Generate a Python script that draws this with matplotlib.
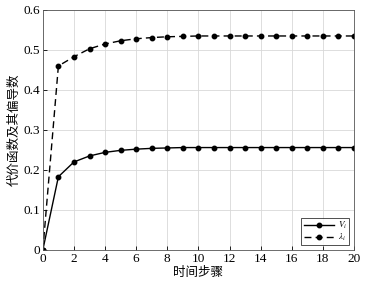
import matplotlib
matplotlib.use('Agg')
import matplotlib.pyplot as plt

# 数据
steps = list(range(0, 21))
v_vals = [0, 0.183, 0.220, 0.235, 0.244, 0.249, 0.252, 0.254, 0.255, 0.256, 0.256,
          0.256, 0.256, 0.256, 0.256, 0.256, 0.256, 0.256, 0.256, 0.256, 0.256]
lam_vals = [0, 0.460, 0.483, 0.503, 0.515, 0.523, 0.528, 0.531, 0.533, 0.534, 0.535,
            0.535, 0.535, 0.535, 0.535, 0.535, 0.535, 0.535, 0.535, 0.535, 0.535]
xticks = list(range(0, 21, 2))
yticks = [0, 0.1, 0.2, 0.3, 0.4, 0.5, 0.6]

plt.rcParams['font.family'] = ['Liberation Serif', 'Noto Sans CJK SC']
plt.rcParams['mathtext.fontset'] = 'stix'

fig = plt.figure(figsize=(3.79, 2.85), dpi=100)
ax = fig.add_axes([0.113, 0.123, 0.821, 0.842])

ax.plot(steps, v_vals, '-', color='black', marker='o', markersize=3.2, linewidth=1.0,
        label='$V_i$')
ax.plot(steps, lam_vals, '--', color='black', marker='o', markersize=3.2, linewidth=1.0,
        dashes=(5, 3), label=r'$\lambda_i$')

ax.set_xlim(0, 20)
ax.set_ylim(0, 0.6)
ax.set_xticks(xticks)
ax.set_yticks(yticks)
ax.set_yticklabels(['0', '0.1', '0.2', '0.3', '0.4', '0.5', '0.6'])
ax.tick_params(labelsize=9.5, direction='in', length=3, width=0.6, pad=2)
ax.grid(color='#d8d8d8', linewidth=0.6)
for s in ax.spines.values():
    s.set_linewidth(0.6)
    s.set_color('#555555')

ax.set_xlabel('时间步骤', fontsize=9, family='Noto Sans CJK SC', labelpad=1)
ax.set_ylabel('代价函数及其偏导数', fontsize=9, family='Noto Sans CJK SC', labelpad=2)

leg = ax.legend(loc='lower right', fontsize=6.5, frameon=True, fancybox=False,
                edgecolor='black', handlelength=3.4, borderpad=0.25, labelspacing=0.1,
                handletextpad=0.4, borderaxespad=0.5)
leg.get_frame().set_linewidth(0.6)

fig.savefig('out.png', dpi=100)
